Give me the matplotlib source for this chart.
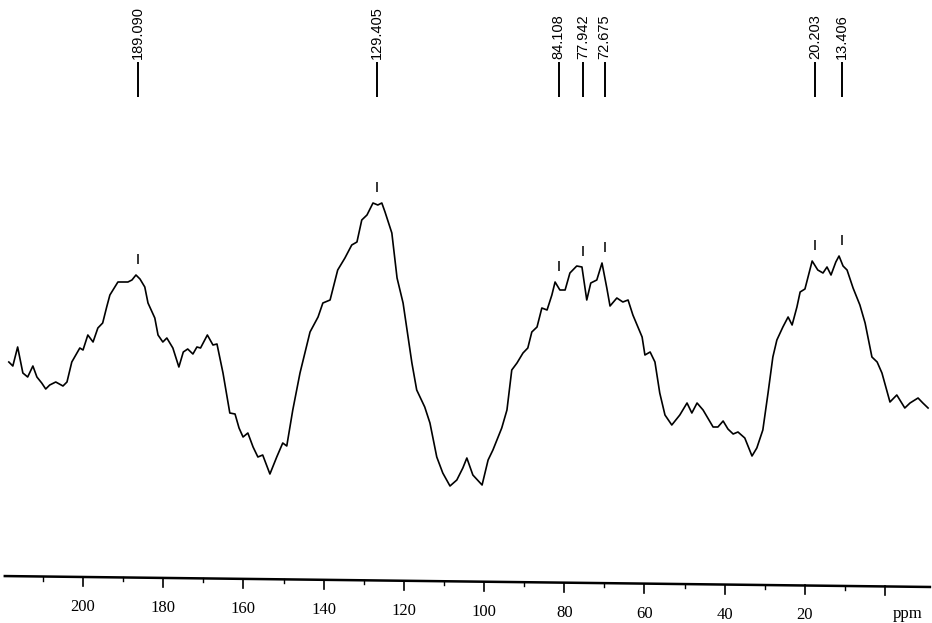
import numpy as np
from matplotlib import pyplot as plt

# 13C spectrum: chemical shift (ppm) and intensity (a.u.)
shift = [221.2, 220.2, 219.0, 217.7, 216.5, 215.2, 214.2, 213.0, 212.0, 211.0,
         209.5, 207.7, 206.7, 205.5, 204.2, 203.5, 202.7, 201.5, 200.2, 199.0,
         197.8, 196.8, 196.0, 194.0, 191.5, 190.5, 189.5, 188.5, 187.3, 186.5,
         184.8, 184.0, 182.8, 181.8, 180.3, 178.8, 177.7, 176.6, 175.3, 174.3,
         173.4, 171.7, 170.3, 169.3, 167.8, 166.1, 164.8, 163.8, 162.8, 161.6,
         160.3, 159.1, 157.9, 156.1, 154.4, 152.9, 151.9, 150.4, 148.6, 146.1,
         144.1, 142.9, 141.1, 139.2, 137.4, 135.7, 134.4, 133.2, 131.9, 130.4,
         129.2, 128.2, 127.4, 125.7, 124.4, 122.9, 120.7, 119.5, 117.5, 116.2,
         114.5, 113.0, 111.2, 109.5, 108.0, 107.0, 105.5, 103.2, 101.7, 100.5,
         98.3, 97.0, 95.8, 94.5, 93.0, 91.8, 90.8, 89.5, 88.3, 87.0,
         85.8, 85.0, 83.8, 82.5, 81.3, 79.6, 78.3, 77.1, 76.1, 74.6,
         73.3, 72.1, 71.3, 69.6, 68.1, 66.8, 65.6, 63.3, 62.6, 61.3,
         60.1, 58.9, 57.6, 55.9, 53.9, 52.1, 50.9, 49.6, 48.1, 45.6,
         44.4, 43.1, 41.9, 40.6, 39.4, 37.7, 35.9, 34.7, 33.2, 31.9,
         30.7, 29.7, 28.2, 26.9, 25.9, 24.7, 23.9, 22.7, 20.9, 19.5,
         18.2, 17.2, 16.2, 15.0, 14.2, 13.2, 12.2, 10.7, 9.0, 7.7,
         6.0, 4.7, 3.5, 1.5, -0.2, -2.2, -3.5, -5.5, -6.7, -8.0]
intensity = [138, 134, 153, 127, 123, 134, 123, 117, 111, 115,
             118, 114, 118, 138, 147, 152, 150, 165, 158, 172,
             177, 193, 205, 218, 218, 220, 225, 221, 213, 197,
             182, 165, 158, 162, 152, 133, 148, 151, 146, 153,
             152, 165, 155, 156, 127, 87, 86, 72, 63, 67,
             53, 43, 45, 26, 43, 57, 54, 90, 127, 168,
             183, 197, 200, 230, 242, 255, 258, 280, 285, 297,
             295, 297, 288, 267, 222, 197, 137, 110, 93, 77,
             43, 27, 14, 20, 32, 42, 25, 15, 40, 50,
             72, 90, 130, 137, 147, 152, 168, 173, 192, 190,
             205, 218, 210, 210, 227, 234, 233, 200, 217, 220,
             237, 212, 194, 202, 198, 200, 185, 163, 145, 148,
             138, 107, 85, 75, 85, 97, 87, 97, 90, 73,
             73, 79, 71, 66, 68, 62, 44, 52, 70, 107,
             143, 160, 173, 183, 175, 193, 208, 211, 239, 230,
             227, 233, 225, 238, 244, 234, 230, 212, 195, 177,
             143, 138, 127, 98, 105, 92, 97, 102, 97, 92]

# picked peaks printed at the top of the chart
peak_shifts = [189.090, 129.405, 84.108, 77.942, 72.675, 20.203, 13.406]

# ppm ruler printed under the trace
ruler_major = [200, 180, 160, 140, 120, 100, 80, 60, 40, 20, 0]
ruler_minor = [210, 190, 170, 150, 130, 110, 90, 70, 50, 30, 10]

fig = plt.figure(figsize=(9.32, 6.23), dpi=100)

# spectrum
ax = fig.add_axes([0, 0, 1, 1])
ax.set_xlim(223.4, -8.98)
ax.set_ylim(-123, 500)
ax.set_axis_off()
ax.plot(shift, intensity, color='black', lw=1.2, solid_joinstyle='round')

x = np.array(shift)
y = np.array(intensity)
for p in peak_shifts:
    near = y[np.abs(x - p) < 1.5]
    top = near.max() if len(near) else np.interp(p, x[::-1], y[::-1])
    ax.vlines(p, top + 11, top + 21, color='black', lw=1.1)
    ax.vlines(p, 403, 438, color='black', lw=1.4)
    ax.text(p, 441, '%.3f' % p, rotation=90, ha='center', va='bottom',
            fontsize=10.5, family='Liberation Sans')

# ruler (slightly tilted on the scan)
ax2 = fig.add_axes([0, 0, 1, 1])
lo, hi = 220.7, -11.72
ax2.set_xlim(lo, hi)
ax2.set_ylim(623, 0)
ax2.set_axis_off()


def ruler_y(p):
    return 576 + 11 * (p - lo) / (hi - lo)


ends = np.array([219.5, -11.2])
ax2.plot(ends, ruler_y(ends), color='black', lw=1.8)
for p in ruler_major:
    ax2.plot([p, p], [ruler_y(p), ruler_y(p) + 9], color='black', lw=1.2)
    if p > 0:
        ax2.text(p, ruler_y(p) + 30, str(p), ha='center', va='center',
                 fontsize=12, family='Liberation Serif')
for p in ruler_minor:
    ax2.plot([p, p], [ruler_y(p), ruler_y(p) + 4], color='black', lw=1.0)
ax2.text(-5.7, ruler_y(-5.7) + 27, 'ppm', ha='center', va='center',
         fontsize=12, family='Liberation Serif')

fig.savefig('out.png', dpi=100)
